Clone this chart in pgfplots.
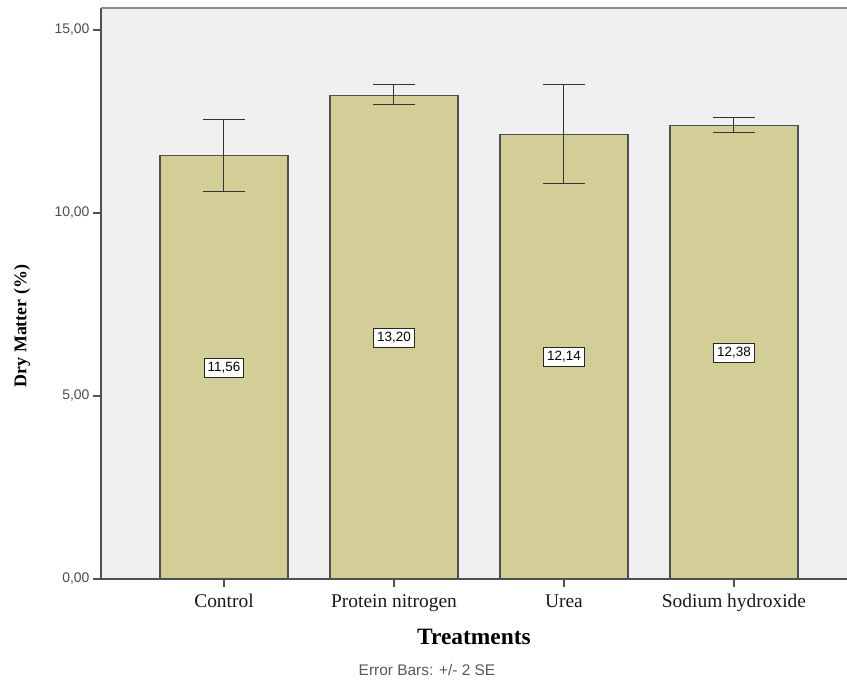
\documentclass[border=0pt]{standalone}
\usepackage{fontspec}
\setmainfont{Liberation Serif}
\setsansfont{Liberation Sans}
\usepackage{pgfplots}
\pgfplotsset{compat=1.18}
\definecolor{barfill}{RGB}{211,206,151}
\definecolor{bg}{RGB}{240,240,240}
\definecolor{edge}{RGB}{80,80,80}
\begin{document}
\begin{tikzpicture}
\begin{axis}[
  scale only axis, width=746bp, height=571bp,
  xmin=-0.7235, xmax=3.665, ymin=0, ymax=15.6,
  axis background/.style={fill=bg},
  axis x line*=bottom, axis y line*=left,
  axis line style={draw=edge, line width=1.3bp},
  xtick={0,1,2,3},
  xticklabels={Control,Protein nitrogen,Urea,Sodium hydroxide},
  ytick={0,5,10,15},
  tick align=outside, major tick length=8bp,
  tick style={draw=edge, line width=1.2bp},
  xticklabel style={font=\fontsize{19.5}{22}\selectfont, text=black!90, anchor=north, text height=14bp, text depth=4bp, yshift=-3bp},
  yticklabel style={font=\sffamily\fontsize{14}{16}\selectfont, text=black!70},
  /pgf/number format/assume math mode=true,
  /pgf/number format/.cd, fixed, fixed zerofill, precision=2, use comma, 1000 sep={},
  /pgfplots/.cd,
  xlabel={\textbf{Treatments}},
  xlabel style={font=\fontsize{23.5}{27}\selectfont, at={(axis description cs:0.5,0)}, anchor=center, yshift=-58bp},
  ylabel={\textbf{Dry Matter (\%)}},
  ylabel style={font=\fontsize{18}{22}\selectfont, at={(axis description cs:-0.1059,0.443)}, anchor=center, rotate=0},
  clip=false,
]
\addplot[ybar, bar width=128bp, fill=barfill, draw=edge, line width=1.1bp,
  error bars/.cd, y dir=both, y explicit,
  error bar style={draw=black!80, line width=1bp},
  error mark options={rotate=90, mark size=21bp, line width=1bp, draw=black!80}]
  table[x=x, y=y, y error plus=ep, y error minus=em] {
x y ep em
0 11.56 0.99 0.96
1 13.20 0.30 0.24
2 12.14 1.36 1.33
3 12.38 0.22 0.19
};
\addplot[draw=none, mark=none, nodes near coords, point meta=explicit symbolic,
  nodes near coords align=center,
  every node near coord/.append style={fill=white, draw=black!85, line width=0.7bp,
    font=\sffamily\fontsize{13.5}{15}\selectfont, inner xsep=3.5bp, inner ysep=4bp, text=black}]
  table[x=x, y=y, meta=lab] {
x y lab
0 5.78 11,56
1 6.60 13,20
2 6.07 12,14
3 6.19 12,38
};
\draw[draw=black!45, line width=1.3bp] (rel axis cs:0,1) -- (rel axis cs:1,1);
\node[font=\sffamily\fontsize{15.5}{18}\selectfont, text=black!65] at ([yshift=-91bp]rel axis cs:0.437,0) {Error Bars: +/- 2 SE};
\coordinate (sw) at (rel axis cs:0,0);
\coordinate (ne) at (rel axis cs:1,1);
\end{axis}
\pgfresetboundingbox
\path[use as bounding box] ([xshift=-101bp,yshift=-104bp]sw) rectangle ([yshift=8bp]ne);
\end{tikzpicture}
\end{document}
